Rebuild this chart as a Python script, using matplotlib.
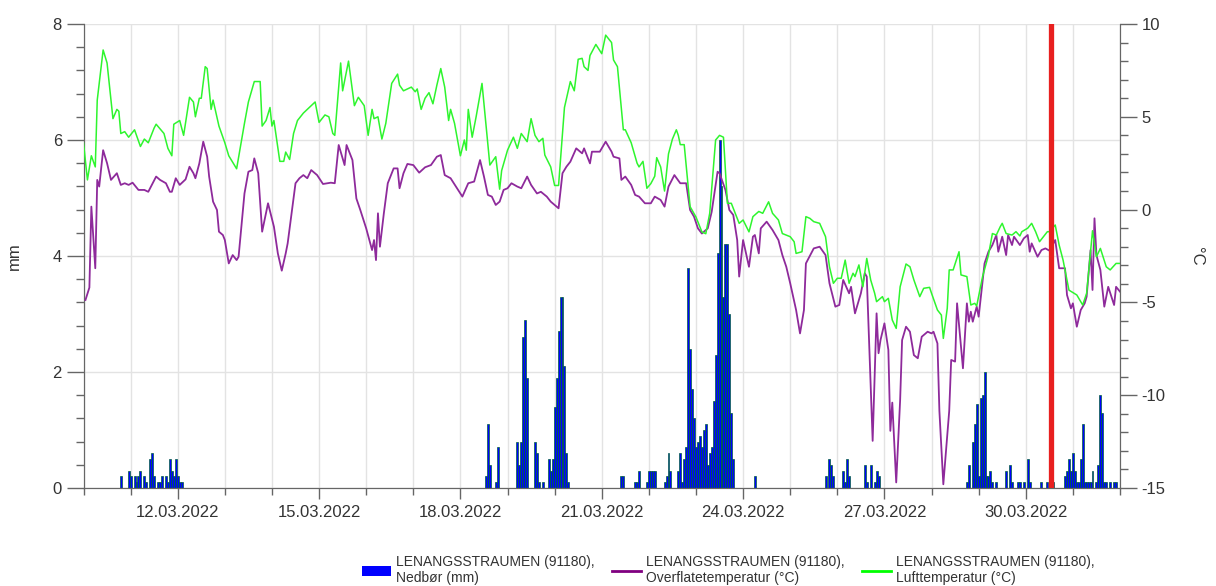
import numpy as np
import matplotlib
matplotlib.use('Agg')
import matplotlib.pyplot as plt
import matplotlib.dates as mdates
from matplotlib.ticker import MultipleLocator, FixedLocator
from matplotlib.patches import Patch
from matplotlib.lines import Line2D

plt.rcParams['font.family'] = ['Liberation Sans', 'DejaVu Sans']
plt.rcParams['axes.unicode_minus'] = False

START = np.datetime64('2022-03-10T00:00')
END = np.datetime64('2022-04-01T00:00')

# ---- Data (hours since 10.03.2022 00:00) ----
# Lufttemperatur (°C)
air_hours = [0, 2, 4, 6, 7, 10, 12, 15, 17, 18, 19, 21, 23, 26, 29, 31, 33, 36, 37, 41, 43, 45, 46, 49, 51,
             54, 56, 57, 59, 60, 62, 63, 65, 66, 69, 72, 74, 78, 82, 84, 87, 90, 91, 93, 95, 96, 97, 100,
             102, 103, 105, 107, 109, 112, 115, 118, 120, 123, 125, 127, 128, 131, 132, 135, 138, 140, 143,
             145, 147, 148, 150, 152, 154, 157, 160, 161, 163, 167, 169, 170, 172, 174, 176, 178, 180, 182,
             184, 186, 187, 189, 192, 194, 195, 196, 198, 200, 203, 204, 207, 210, 212, 213, 216, 219, 221,
             223, 226, 228, 230, 232, 234, 235, 238, 240, 242, 245, 248, 250, 252, 254, 255, 257, 258, 261,
             264, 266, 269, 270, 272, 275, 276, 279, 282, 283, 285, 287, 289, 291, 292, 294, 296, 298, 300,
             302, 303, 304, 306, 309, 312, 315, 317, 319, 322, 324, 326, 328, 330, 332, 334, 336, 339, 341,
             344, 346, 349, 351, 354, 356, 360, 362, 363, 366, 368, 370, 372, 375, 378, 380, 382, 384, 386,
             388, 390, 392, 393, 395, 397, 399, 401, 403, 404, 407, 408, 410, 412, 414, 416, 419, 421, 423,
             426, 428, 431, 432, 435, 437, 438, 440, 441, 443, 446, 447, 450, 452, 454, 455, 458, 461, 463,
             465, 467, 468, 470, 473, 475, 477, 478, 481, 483, 485, 487, 491, 492, 495, 497, 499, 502, 506,
             509, 511, 514, 516, 518, 521, 523, 526, 528]
air_temp = [3.6, 1.6, 2.9, 2.3, 5.9, 8.6, 7.9, 4.9, 5.4, 5.3, 4.1, 4.2, 3.9, 4.3, 3.4, 3.8, 3.6, 4.4, 4.6, 4.1,
            3.3, 2.9, 4.6, 4.8, 4.0, 6.05, 5.8, 5.0, 6.0, 6.0, 7.7, 7.6, 5.4, 5.9, 4.5, 3.6, 2.9, 2.2, 4.65,
            5.8, 6.9, 6.9, 4.5, 4.8, 5.5, 4.5, 4.8, 2.6, 2.6, 3.1, 2.7, 4.1, 4.8, 5.2, 5.5, 5.8, 4.7, 5.1,
            5.0, 4.1, 4.0, 7.9, 6.4, 8.0, 5.6, 6.05, 5.6, 4.0, 5.4, 4.9, 5.0, 3.8, 4.65, 6.8, 7.3, 6.7, 6.4,
            6.6, 6.35, 6.5, 5.4, 6.0, 6.3, 5.7, 6.7, 7.6, 6.6, 4.8, 5.4, 4.65, 2.9, 3.75, 3.2, 5.4, 3.9,
            5.0, 6.8, 5.7, 2.4, 2.85, 1.1, 2.1, 3.2, 3.9, 3.3, 4.1, 3.66, 4.9, 4.0, 3.66, 3.84, 2.94, 2.3,
            1.3, 1.3, 5.5, 6.9, 6.4, 8.1, 8.15, 7.7, 7.5, 8.3, 8.9, 8.4, 9.4, 9.0, 8.06, 7.7, 4.3, 4.3, 3.6,
            2.5, 2.3, 2.6, 1.15, 1.4, 1.8, 2.8, 2.3, 1.0, 3.0, 3.8, 4.3, 4.0, 3.5, 3.5, 0.16, -0.4, -1.2,
            -1.3, -0.2, 3.75, 4.0, 3.9, 0.34, 0.34, -0.2, -0.74, -0.56, -1.2, -0.38, -0.1, -0.2, 0.42, -0.2,
            -0.56, -1.29, -1.46, -1.73, -2.36, -2.27, -0.38, -0.47, -0.65, -0.74, -1.46, -3.08, -3.97, -3.7,
            -3.7, -2.72, -3.97, -3.43, -3.61, -2.98, -4.16, -2.63, -3.79, -4.5, -4.96, -4.69, -4.96, -4.78,
            -5.95, -6.4, -4.16, -2.93, -3.08, -3.79, -4.69, -4.24, -4.19, -4.51, -5.41, -5.68, -6.94, -5.32,
            -3.25, -3.25, -2.27, -3.52, -3.61, -5.14, -5.05, -5.19, -3.61, -2.45, -1.29, -1.37, -0.92, -0.74,
            -1.29, -1.37, -1.19, -1.42, -1.19, -1.0, -0.74, -1.19, -1.73, -1.19, -1.19, -0.83, -1.91, -2.72,
            -4.34, -4.6, -5.14, -4.51, -1.14, -2.54, -2.09, -3.08, -3.25, -2.9, -2.9]

# Overflatetemperatur (°C)
surf_hours = [1, 3, 4, 6, 7, 8, 10, 12, 14, 17, 19, 21, 23, 25, 28, 31, 33, 37, 39, 42, 44, 45, 47, 49, 52,
              54, 56, 57, 59, 61, 63, 64, 66, 68, 69, 71, 72, 74, 76, 78, 79, 82, 84, 86, 87, 89, 91, 94, 97,
              99, 101, 103, 104, 108, 110, 112, 114, 116, 119, 122, 126, 128, 130, 133, 134, 137, 139, 141,
              144, 147, 148, 149, 150, 151, 153, 155, 158, 160, 161, 163, 165, 168, 171, 174, 177, 180, 182,
              184, 187, 192, 193, 196, 199, 202, 204, 206, 208, 210, 212, 214, 216, 218, 221, 223, 226, 228,
              231, 233, 236, 238, 240, 242, 244, 246, 248, 251, 254, 255, 258, 259, 263, 266, 269, 270, 273,
              274, 276, 279, 281, 283, 286, 289, 291, 294, 296, 298, 301, 304, 307, 309, 311, 313, 315, 318,
              320, 323, 324, 327, 329, 331, 333, 334, 336, 339, 341, 342, 344, 345, 348, 351, 354, 356, 358,
              360, 363, 365, 367, 368, 372, 375, 378, 380, 383, 385, 387, 390, 391, 393, 396, 398, 399, 402,
              404, 405, 406, 408, 410, 411, 412, 414, 416, 417, 419, 421, 423, 425, 427, 430, 432, 433, 435,
              436, 438, 441, 442, 444, 445, 447, 448, 450, 451, 452, 453, 455, 456, 459, 461, 463, 465, 466,
              468, 470, 471, 473, 474, 477, 479, 481, 482, 483, 486, 488, 490, 492, 495, 497, 500, 501, 503,
              504, 506, 508, 510, 511, 513, 514, 515, 516, 518, 520, 522, 525, 526, 528]
surf_temp = [-4.87, -4.2, 0.16, -3.16, 1.6, 1.24, 3.2, 2.5, 1.6, 1.96, 1.33, 1.42, 1.33, 1.45, 1.06, 1.06,
             0.96, 1.78, 1.6, 1.42, 0.96, 0.96, 1.69, 1.33, 1.63, 2.31, 1.96, 1.69, 2.49, 3.66, 2.85, 1.78,
             0.43, -0.02, -1.19, -1.37, -1.64, -2.9, -2.45, -2.72, -2.54, 0.87, 2.04, 2.13, 2.76, 1.96, -1.19,
             0.34, -0.92, -2.36, -3.29, -2.36, -1.82, 1.42, 1.69, 1.86, 1.69, 2.13, 1.86, 1.38, 1.45, 1.42,
             3.48, 2.40, 3.48, 2.67, 0.6, -0.02, -1.01, -2.18, -1.64, -2.72, -0.2, -2.0, -0.2, 1.42, 2.22,
             2.22, 1.15, 1.96, 2.46, 2.4, 1.99, 2.28, 2.40, 2.85, 2.94, 1.86, 1.69, 0.87, 0.70, 1.42, 1.51,
             2.67, 1.78, 0.79, 0.70, 0.25, 0.43, 1.06, 1.15, 1.42, 1.24, 1.15, 1.78, 1.33, 0.87, 0.96, 0.70,
             0.43, 0.25, 0.07, 1.96, 2.31, 2.58, 3.30, 3.03, 3.30, 2.49, 3.12, 3.12, 3.66, 3.12, 2.85, 2.76,
             1.6, 1.78, 1.33, 0.79, 0.70, 0.34, 0.34, 0.70, 0.52, 0.16, 1.24, 1.86, 1.42, 1.42, -0.02, -0.38,
             -1.01, -1.29, -1.01, -0.12, 2.04, 1.96, 1.06, -0.02, -0.29, -1.64, -3.61, -1.64, -3.08, -1.46,
             -1.37, -2.36, -1.01, -0.65, -1.1, -1.64, -2.45, -3.08, -3.97, -5.41, -6.67, -5.41, -2.9, -2.09,
             -2.0, -2.45, -3.97, -5.23, -5.14, -3.79, -4.51, -4.16, -5.59, -4.51, -3.43, -3.61, -12.46,
             -5.59, -7.74, -7.03, -6.13, -7.56, -11.92, -10.4, -14.7, -10.26, -7.03, -6.31, -6.58, -7.84,
             -8.01, -6.85, -6.58, -6.67, -6.58, -7.21, -10.85, -14.8, -10.85, -8.1, -8.19, -5.05, -7.39,
             -8.55, -5.05, -6.04, -5.50, -6.04, -5.23, -5.77, -2.9, -2.27, -1.91, -1.37, -2.27, -1.46, -2.45,
             -1.37, -1.91, -1.46, -1.91, -1.55, -1.37, -2.27, -1.82, -2.54, -2.18, -2.09, -2.21, -1.64, -3.16,
             -3.16, -4.6, -5.32, -5.05, -6.31, -5.41, -5.05, -4.69, -2.18, -4.33, -0.47, -2.45, -3.25, -5.23,
             -4.16, -5.14, -4.16, -4.42]

# Nedbør (mm), hourly
rain_hours = [19, 23, 24, 26, 27, 28, 29, 31, 32, 34, 35, 36, 38, 39, 40, 42, 43, 44, 45, 46, 47, 48, 49, 50,
              205, 206, 207, 210, 211, 221, 222, 223, 224, 225, 226, 230, 231, 232, 234, 237, 238, 239, 240,
              241, 242, 243, 244, 245, 246, 247,
              274, 275, 281, 282, 283, 287, 288, 289, 290, 291, 296, 297, 298, 299, 303, 304, 305, 306, 307,
              308, 309, 310, 311, 312, 313, 314, 315, 316, 317, 318, 319, 320, 321, 322, 323, 324, 325, 326,
              327, 328, 329, 330, 331, 342,
              378, 380, 381, 382, 387, 388, 389, 390, 398, 399, 401, 403, 404, 405,
              450, 451, 453, 454, 455, 456, 457, 458, 459, 460, 461, 462, 463, 465, 470, 472, 473, 476, 477,
              479, 481, 482, 488, 491, 494, 500, 501, 502, 503, 504, 505, 506, 507, 508, 509, 510, 511, 512,
              513, 514, 516, 517, 518, 519, 520, 521, 523, 525, 526]
rain_mm = [0.2, 0.3, 0.2, 0.2, 0.1, 0.2, 0.3, 0.2, 0.1, 0.5, 0.6, 0.2, 0.1, 0.1, 0.2, 0.2, 0.1, 0.5, 0.3, 0.2,
           0.5, 0.2, 0.1, 0.1,
           0.2, 1.1, 0.4, 0.1, 0.7, 0.8, 0.4, 0.8, 2.6, 2.9, 1.9, 0.8, 0.6, 0.1, 0.1, 0.5, 0.3, 0.5, 1.4,
           1.9, 2.7, 3.3, 3.3, 2.1, 0.6, 0.1,
           0.2, 0.2, 0.1, 0.1, 0.3, 0.1, 0.3, 0.3, 0.3, 0.3, 0.1, 0.2, 0.6, 0.3, 0.3, 0.6, 0.1, 0.5, 0.7,
           3.8, 2.4, 1.7, 1.2, 0.7, 0.8, 0.9, 0.7, 1.0, 1.1, 0.4, 0.6, 0.7, 1.5, 2.3, 4.05, 6.0, 5.2, 3.3,
           4.2, 4.2, 3.0, 1.3, 0.5, 0.2,
           0.2, 0.5, 0.4, 0.2, 0.3, 0.1, 0.5, 0.2, 0.4, 0.1, 0.4, 0.1, 0.3, 0.2,
           0.1, 0.4, 0.8, 1.1, 1.45, 0.2, 1.55, 1.6, 2.0, 0.2, 0.2, 0.3, 0.1, 0.1, 0.3, 0.4, 0.1, 0.1, 0.1,
           0.1, 0.5, 0.1, 0.1, 0.1, 0.1, 0.2, 0.3, 0.5, 0.3, 0.6, 0.3, 0.1, 0.1, 0.5, 1.1, 0.1, 0.1, 0.1,
           0.1, 0.3, 0.1, 0.4, 1.6, 1.3, 0.1, 0.1, 0.1, 0.1, 0.1]

marker_hour = 493  # red vertical marker (30.03.2022 ~13:00)

legend_labels = ['LENANGSSTRAUMEN (91180),\nNedbør (mm)',
                 'LENANGSSTRAUMEN (91180),\nOverflatetemperatur (°C)',
                 'LENANGSSTRAUMEN (91180),\nLufttemperatur (°C)']


def to_time(hours):
    return START + np.array(hours, dtype='timedelta64[h]')


TXT = '#333333'
AXC = '#666666'
GRID = '#e3e3e3'

fig = plt.figure(figsize=(12.16, 5.86), dpi=100)
L, R, T, B = 83.5, 1120, 24, 488
ax = fig.add_axes([L / 1216, 1 - B / 586, (R - L) / 1216, (B - T) / 586])

ax.bar(to_time(rain_hours), rain_mm, width=1 / 24, color='#0000ff', edgecolor='#00603a',
       linewidth=0.5, zorder=2)
ax.set_ylim(0, 8)
ax.set_xlim(START, END)
ax.yaxis.set_major_locator(FixedLocator([0, 2, 4, 6, 8]))
ax.yaxis.set_minor_locator(MultipleLocator(0.4))
ax.xaxis.set_major_locator(mdates.DayLocator(bymonthday=[12, 15, 18, 21, 24, 27, 30]))
ax.xaxis.set_minor_locator(mdates.DayLocator())
ax.xaxis.set_major_formatter(mdates.DateFormatter('%d.%m.%Y'))
ax.set_axisbelow(True)
ax.grid(axis='x', which='both', color=GRID, lw=1)
ax.grid(axis='y', which='major', color=GRID, lw=1)

ax2 = ax.twinx()
ax2.plot(to_time(surf_hours), surf_temp, color='#8e2a9b', lw=1.3, zorder=3)
ax2.plot(to_time(air_hours), air_temp, color='#2ef52e', lw=1.1, zorder=3)
ax2.axvline(to_time([marker_hour])[0], color='#e8201f', lw=3.8, zorder=5)
ax2.set_ylim(-15, 10)
ax2.yaxis.set_major_locator(MultipleLocator(5))
ax2.yaxis.set_minor_locator(MultipleLocator(1))

for a in (ax, ax2):
    a.spines['top'].set_visible(False)
    for s in ('left', 'right', 'bottom'):
        a.spines[s].set_color(AXC)
    a.tick_params(which='major', length=12, color=AXC, labelsize=12, labelcolor=TXT, width=1)
    a.tick_params(which='minor', length=6, color=AXC, width=1)
ax.tick_params(axis='x', which='major', length=8, pad=4)
ax.tick_params(axis='x', which='minor', length=5)

ax.set_ylabel('mm', fontsize=12, color=TXT)
ax.yaxis.set_label_coords(-(L - 22) / (R - L), 0.5)
ax2.set_ylabel('°C', fontsize=12, color=TXT, rotation=270, va='center')
ax2.yaxis.set_label_coords((1197 - L) / (R - L), 0.5)

handles = [Patch(facecolor='#0000ff', edgecolor='none'),
           Line2D([], [], color='#800080', lw=2),
           Line2D([], [], color='#00ff00', lw=2)]
fig.legend(handles, legend_labels, ncol=3, loc='center', bbox_to_anchor=(0.599, 0.027),
           frameon=False, fontsize=10, handlelength=2.1, handletextpad=0.4, columnspacing=1.2,
           labelcolor=TXT)

fig.savefig('out.png', dpi=100)
